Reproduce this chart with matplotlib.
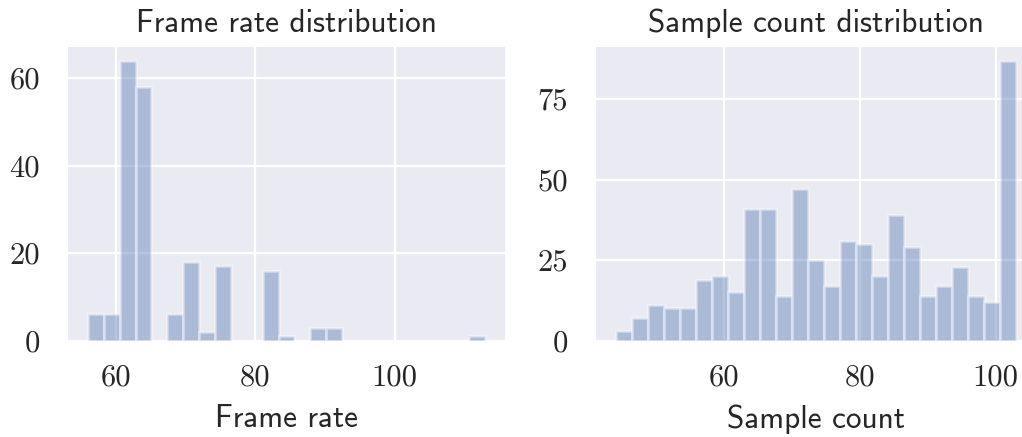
import numpy as np
import matplotlib
matplotlib.use("Agg")
import matplotlib.pyplot as plt

# histogram counts (25 bins each)
frame_rate_counts = [6, 6, 64, 58, 0, 6, 18, 2, 17, 0, 0, 16, 1, 0, 3, 3,
                     0, 0, 0, 0, 0, 0, 0, 0, 1]
frame_rate_range = (56, 113)
sample_count_counts = [3, 7, 11, 10, 10, 19, 20, 15, 41, 41, 14, 47, 25, 17,
                       31, 30, 20, 39, 29, 14, 17, 23, 14, 12, 87]
sample_count_range = (44, 103)

frame_rate_xticks = [60, 80, 100]
frame_rate_yticks = [0, 20, 40, 60]
sample_count_xticks = [60, 80, 100]
sample_count_yticks = [0, 25, 50, 75]

titles = ["Frame rate distribution", "Sample count distribution"]
xlabels = ["Frame rate", "Sample count"]

plt.rcParams['axes.formatter.use_mathtext'] = True
plt.rcParams['axes.unicode_minus'] = False

W, H = 1022, 437
fig = plt.figure(figsize=(W / 100, H / 100), dpi=100)
ax1 = fig.add_axes([68 / W, (H - 340.7) / H, 437 / W, 294.2 / H])
ax2 = fig.add_axes([596 / W, (H - 340.7) / H, 440 / W, 294.2 / H])

panels = [
    (ax1, frame_rate_counts, frame_rate_range, frame_rate_xticks, frame_rate_yticks),
    (ax2, sample_count_counts, sample_count_range, sample_count_xticks, sample_count_yticks),
]

text_col = '.15'
for i, (ax, counts, rng, xt, yt) in enumerate(panels):
    edges = np.linspace(rng[0], rng[1], len(counts) + 1)
    centers = (edges[:-1] + edges[1:]) / 2
    ax.set_facecolor('#EAEAF2')
    ax.set_axisbelow(True)
    ax.grid(True, color='white', linewidth=1.6)
    ax.hist(centers, bins=edges, weights=counts, color='#4C72B0', alpha=0.4,
            edgecolor='white', linewidth=2)
    for s in ax.spines.values():
        s.set_visible(False)
    ax.set_xticks(xt, [str(v) for v in xt], family='cmr10', fontsize=22, color=text_col)
    ax.set_yticks(yt, [str(v) for v in yt], family='cmr10', fontsize=22, color=text_col)
    ax.tick_params(axis='both', length=0)
    ax.tick_params(axis='y', pad=20)
    ax.tick_params(axis='x', pad=17)
    ax.set_title(titles[i], family='cmss10', fontsize=22.5, color=text_col, pad=10.5)
    ax.set_xlabel(xlabels[i], family='cmss10', fontsize=22.5, color=text_col, labelpad=9)

fig.savefig('out.png', dpi=100)
